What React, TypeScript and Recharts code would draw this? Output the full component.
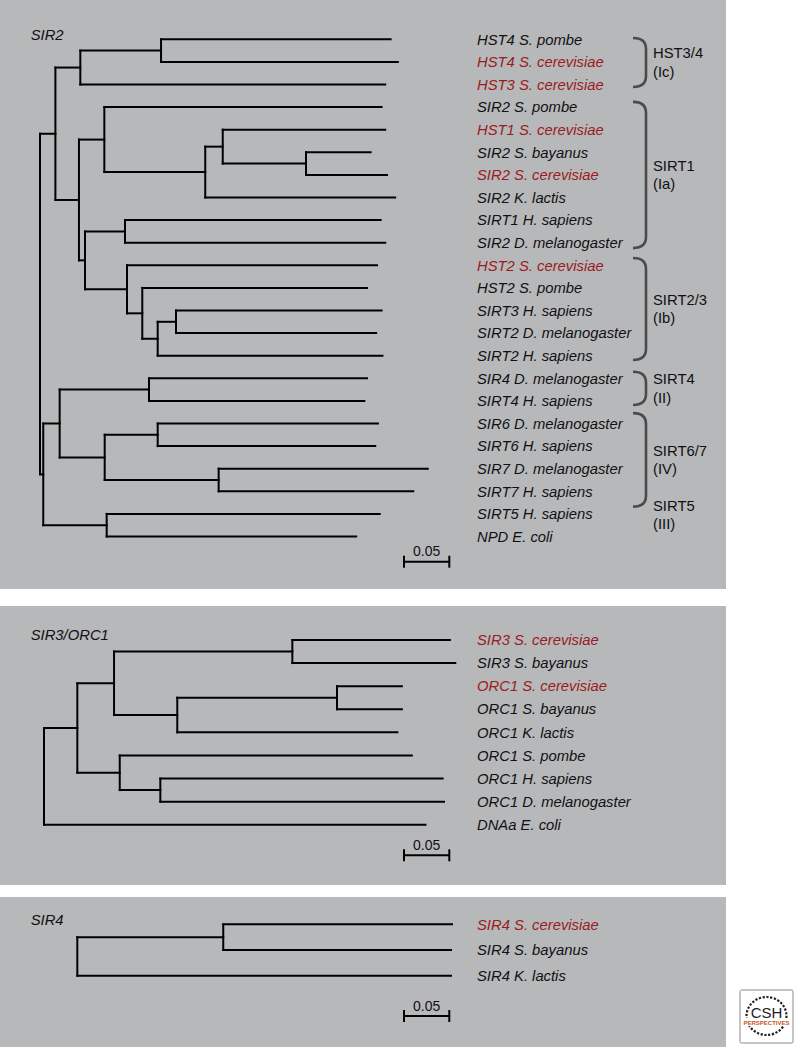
import React from 'react';
import { ComposedChart, XAxis, YAxis, Scatter, ReferenceLine, ReferenceArea, ReferenceDot } from 'recharts';

// ---------- SIR2 family tree ----------
const sir2Leaves = [
  'HST4 S. pombe', 'HST4 S. cerevisiae', 'HST3 S. cerevisiae', 'SIR2 S. pombe', 'HST1 S. cerevisiae',
  'SIR2 S. bayanus', 'SIR2 S. cerevisiae', 'SIR2 K. lactis', 'SIRT1 H. sapiens', 'SIR2 D. melanogaster',
  'HST2 S. cerevisiae', 'HST2 S. pombe', 'SIRT3 H. sapiens', 'SIRT2 D. melanogaster', 'SIRT2 H. sapiens',
  'SIR4 D. melanogaster', 'SIRT4 H. sapiens', 'SIR6 D. melanogaster', 'SIRT6 H. sapiens', 'SIR7 D. melanogaster',
  'SIRT7 H. sapiens', 'SIRT5 H. sapiens', 'NPD E. coli',
];
// distance from root to each tip
const sir2LeafDepth = [
  0.387, 0.395, 0.381, 0.377, 0.381, 0.365, 0.383, 0.392, 0.376, 0.381, 0.372, 0.361,
  0.377, 0.371, 0.378, 0.361, 0.358, 0.373, 0.370, 0.428, 0.412, 0.375, 0.349,
];
const sir2LeafParent = [
  'A1a', 'A1a', 'A1', 'C', 'C3', 'C4', 'C4', 'C2', 'D1', 'D1', 'D2', 'D3',
  'D5', 'D5', 'D4', 'E1', 'E1', 'E3', 'E3', 'E4', 'E4', 'F', 'F',
];
const sir2Nodes = ['R', 'A', 'A1', 'A1a', 'A2', 'C', 'C2', 'C3', 'C4', 'D', 'D1', 'D2', 'D3', 'D4', 'D5', 'B', 'E', 'E1', 'E2', 'E3', 'E4', 'F'];
const sir2NodeParent = [null, 'R', 'A', 'A1', 'A', 'A2', 'C', 'C2', 'C3', 'A2', 'D', 'D', 'D2', 'D3', 'D4', 'R', 'B', 'E', 'E', 'E2', 'E2', 'B'];
const sir2NodeDepth = [0, 0.017, 0.0445, 0.1336, 0.043, 0.071, 0.1824, 0.2017, 0.2936, 0.0497, 0.0938, 0.096, 0.1129, 0.1299, 0.1501, 0.0036, 0.0217, 0.1203, 0.0714, 0.1299, 0.1972, 0.0736];

// sirtuin classes (rows spanned by the bracket)
const sir2GroupNames = ['HST3/4', 'SIRT1', 'SIRT2/3', 'SIRT4', 'SIRT6/7', 'SIRT5'];
const sir2GroupClasses = ['(Ic)', '(Ia)', '(Ib)', '(II)', '(IV)', '(III)'];
const sir2GroupFrom = [-0.06, 2.77, 9.68, 14.71, 16.54, 21.05];
const sir2GroupTo = [2.11, 9.24, 14.19, 16.18, 20.68, 21.05];

// ---------- SIR3/ORC1 tree ----------
const sir3Leaves = [
  'SIR3 S. cerevisiae', 'SIR3 S. bayanus', 'ORC1 S. cerevisiae', 'ORC1 S. bayanus', 'ORC1 K. lactis',
  'ORC1 S. pombe', 'ORC1 H. sapiens', 'ORC1 D. melanogaster', 'DNAa E. coli',
];
const sir3LeafDepth = [0.448, 0.454, 0.395, 0.395, 0.390, 0.406, 0.440, 0.4415, 0.421];
const sir3LeafParent = ['H1', 'H1', 'H3', 'H3', 'H2', 'I', 'I2', 'I2', 'R'];
const sir3Nodes = ['R', 'G', 'H', 'H1', 'H2', 'H3', 'I', 'I2'];
const sir3NodeParent = [null, 'R', 'G', 'H', 'H', 'H2', 'G', 'I'];
const sir3NodeDepth = [0, 0.0368, 0.0773, 0.2741, 0.1471, 0.3234, 0.0836, 0.1284];

// ---------- SIR4 tree ----------
const sir4Leaves = ['SIR4 S. cerevisiae', 'SIR4 S. bayanus', 'SIR4 K. lactis'];
const sir4LeafDepth = [0.4136, 0.4125, 0.4125];
const sir4LeafParent = ['J', 'J', 'R'];
const sir4Nodes = ['R', 'J'];
const sir4NodeParent = [null, 'R'];
const sir4NodeDepth = [0, 0.1611];

const scaleBarLength = 0.05;

const PX_PER_UNIT = 906;
const PANEL_W = 726;
const LABEL_PX = 477;
const FONT = '"Liberation Sans", Arial, Helvetica, sans-serif';
const BG = '#b7b8ba';
const RED = '#9b1b21';

type Seg = { x1: number; y1: number; x2: number; y2: number };

function buildTree(
  leaves: string[], leafDepth: number[], leafParent: string[],
  nodes: string[], nodeParent: (string | null)[], nodeDepth: number[],
) {
  const info: Record<string, { depth: number; parent: string | null; children: string[]; y?: number }> = {};
  nodes.forEach((id, i) => { info[id] = { depth: nodeDepth[i], parent: nodeParent[i], children: [] }; });
  leaves.forEach((_, i) => {
    info['L' + i] = { depth: leafDepth[i], parent: leafParent[i], children: [], y: i };
  });
  Object.keys(info).forEach((id) => {
    const p = info[id].parent;
    if (p) info[p].children.push(id);
  });
  const getY = (id: string): number => {
    const n = info[id];
    if (n.y !== undefined) return n.y;
    const ys = n.children.map(getY);
    n.y = (Math.min(...ys) + Math.max(...ys)) / 2;
    return n.y;
  };
  const segs: Seg[] = [];
  Object.keys(info).forEach((id) => {
    const n = info[id];
    const y = getY(id);
    if (n.parent) segs.push({ x1: info[n.parent].depth, y1: y, x2: n.depth, y2: y });
    if (n.children.length) {
      const ys = n.children.map(getY);
      segs.push({ x1: n.depth, y1: Math.min(...ys), x2: n.depth, y2: Math.max(...ys) });
    }
  });
  const tips = leaves.map((name, i) => ({ x: leafDepth[i], y: i, name }));
  return { segs, tips };
}

const LeafLabel = (props: any) => {
  const { cy, payload } = props;
  const red = payload.name.includes('S. cerevisiae');
  return (
    <text x={LABEL_PX} y={cy + 5.2} fontSize={14.8} fontStyle="italic" fontFamily={FONT} fill={red ? RED : '#111'}>
      {payload.name}
    </text>
  );
};

interface Group { name: string; cls: string; from: number; to: number }

interface PanelProps {
  title: string;
  top: number;
  height: number;
  rootPx: number;
  firstRow: number;
  rowStep: number;
  tree: { segs: Seg[]; tips: { x: number; y: number; name: string }[] };
  scalePx: { x: number; y: number };
  groups?: Group[];
}

function TreePanel({ title, top, height, rootPx, firstRow, rowStep, tree, scalePx, groups }: PanelProps) {
  const toD = (px: number) => (px - rootPx) / PX_PER_UNIT;
  const toRow = (py: number) => (py - firstRow) / rowStep;
  const xDomain = [toD(0), toD(PANEL_W)];
  const yDomain = [toRow(0), toRow(height)];
  const sx = toD(scalePx.x);
  const sy = toRow(scalePx.y);
  const tick = 6 / rowStep;
  const line = { stroke: '#000', strokeWidth: 2, strokeLinecap: 'square' as const, ifOverflow: 'visible' as const };

  return (
    <div style={{ position: 'absolute', left: 0, top, width: PANEL_W, height, background: BG }}>
      <ComposedChart width={PANEL_W} height={height} margin={{ top: 0, right: 0, bottom: 0, left: 0 }}>
        <XAxis type="number" dataKey="x" domain={xDomain} hide allowDataOverflow />
        <YAxis type="number" dataKey="y" domain={yDomain} hide reversed allowDataOverflow width={0} />
        {tree.segs.map((s, i) => (
          <ReferenceLine key={`seg-${i}`} segment={[{ x: s.x1, y: s.y1 }, { x: s.x2, y: s.y2 }]} {...line} />
        ))}
        <Scatter data={tree.tips} isAnimationActive={false} shape={(p: any) => <LeafLabel {...p} />} />

        {/* scale bar */}
        <ReferenceLine segment={[{ x: sx, y: sy }, { x: sx + scaleBarLength, y: sy }]} {...line} strokeLinecap="butt" />
        <ReferenceLine segment={[{ x: sx, y: sy - tick }, { x: sx, y: sy + tick }]} {...line} strokeLinecap="butt" />
        <ReferenceLine segment={[{ x: sx + scaleBarLength, y: sy - tick }, { x: sx + scaleBarLength, y: sy + tick }]} {...line} strokeLinecap="butt" />
        <ReferenceDot
          x={sx + scaleBarLength / 2}
          y={sy}
          ifOverflow="visible"
          shape={(p: any) => (
            <text x={p.cx} y={p.cy - 5.5} textAnchor="middle" fontSize={14} fontFamily={FONT} fill="#111">
              {String(scaleBarLength)}
            </text>
          )}
        />

        {/* class brackets */}
        {groups && groups.filter((g) => g.to > g.from).map((g, i) => (
          <ReferenceArea
            key={`br-${i}`}
            x1={toD(633)}
            x2={toD(646)}
            y1={g.from}
            y2={g.to}
            ifOverflow="visible"
            shape={(p: any) => {
              const { x, y, width, height: h } = p;
              const r = 11;
              return (
                <path
                  d={`M${x},${y} Q${x + width},${y} ${x + width},${y + r} L${x + width},${y + h - r} Q${x + width},${y + h} ${x},${y + h}`}
                  fill="none"
                  stroke="#4b4b4b"
                  strokeWidth={2.6}
                />
              );
            }}
          />
        ))}
        {groups && groups.map((g, i) => (
          <ReferenceDot
            key={`gl-${i}`}
            x={toD(653)}
            y={(g.from + g.to) / 2}
            ifOverflow="visible"
            shape={(p: any) => (
              <g fontSize={14.8} fontFamily={FONT} fill="#111">
                <text x={p.cx} y={p.cy - 4.3}>{g.name}</text>
                <text x={p.cx} y={p.cy + 14.3}>{g.cls}</text>
              </g>
            )}
          />
        ))}
      </ComposedChart>
      <svg width={200} height={50} style={{ position: 'absolute', left: 0, top: 0, pointerEvents: 'none' }}>
        <text x={30.7} y={firstRow + 0.2} fontSize={14.8} fontStyle="italic" fontFamily={FONT} fill="#111">
          {title}
        </text>
      </svg>
    </div>
  );
}

function Logo() {
  return (
    <svg width={56} height={56} style={{ position: 'absolute', left: 738.5, top: 989 }}>
      <rect x={1} y={1} width={53} height={53} rx={1.5} fill="#fff" stroke="#8a8a8a" strokeWidth={1} />
      <ellipse cx={27.5} cy={27} rx={20} ry={19} fill="none" stroke="#222" strokeWidth={2.2} strokeDasharray="2.2 1.6" />
      <rect x={5} y={29} width={45} height={8} fill="#fff" />
      <text x={27.5} y={29} textAnchor="middle" fontSize={15} fontFamily={FONT} fill="#222">CSH</text>
      <text x={27.5} y={35.5} textAnchor="middle" fontSize={6} fontWeight="bold" fontFamily={FONT} fill="#c4561c">
        PERSPECTIVES
      </text>
    </svg>
  );
}

export default function App() {
  const sir2 = buildTree(sir2Leaves, sir2LeafDepth, sir2LeafParent, sir2Nodes, sir2NodeParent, sir2NodeDepth);
  const sir3 = buildTree(sir3Leaves, sir3LeafDepth, sir3LeafParent, sir3Nodes, sir3NodeParent, sir3NodeDepth);
  const sir4 = buildTree(sir4Leaves, sir4LeafDepth, sir4LeafParent, sir4Nodes, sir4NodeParent, sir4NodeDepth);
  const groups: Group[] = sir2GroupNames.map((name, i) => ({
    name, cls: sir2GroupClasses[i], from: sir2GroupFrom[i], to: sir2GroupTo[i],
  }));

  return (
    <div style={{ position: 'absolute', left: 0, top: 0, width: 797, height: 1047, background: '#fff', overflow: 'hidden' }}>
      <TreePanel title="SIR2" top={0} height={589} rootPx={40} firstRow={39.3} rowStep={22.6} tree={sir2}
        scalePx={{ x: 404, y: 561.7 }} groups={groups} />
      <TreePanel title="SIR3/ORC1" top={606} height={279} rootPx={44} firstRow={34} rowStep={23.09} tree={sir3}
        scalePx={{ x: 404, y: 249.3 }} />
      <TreePanel title="SIR4" top={897} height={150} rootPx={77.3} firstRow={27.3} rowStep={25.7} tree={sir4}
        scalePx={{ x: 404, y: 119 }} />
      <Logo />
    </div>
  );
}
